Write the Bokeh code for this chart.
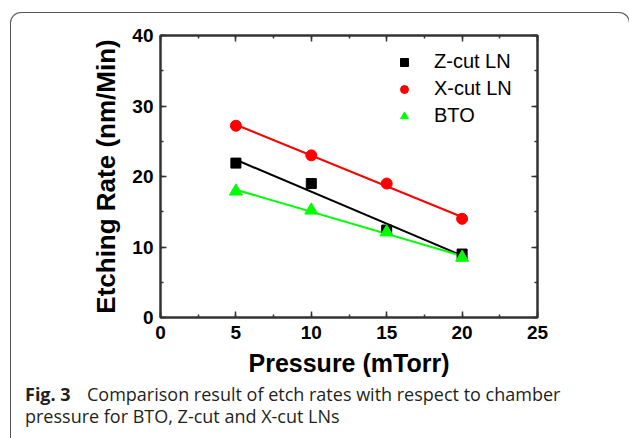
import numpy as np
from bokeh.plotting import figure
from bokeh.layouts import column
from bokeh.models import (Range1d, LinearAxis, SingleIntervalTicker, Legend,
                          LegendItem, CustomJSTickFormatter, InlineStyleSheet, Div)
from bokeh.embed import file_html
from bokeh.resources import INLINE

# ---- data ----
pressure = [5, 10, 15, 20]
zcut_ln = [21.9, 19.0, 12.4, 9.0]
xcut_ln = [27.2, 23.0, 19.0, 14.0]
bto = [17.9, 15.2, 12.1, 8.5]
series_names = ["Z-cut LN", "X-cut LN", "BTO"]
x_label = "Pressure (mTorr)"
y_label = "Etching Rate (nm/Min)"
caption_bold = "Fig. 3"
caption_line1 = "Comparison result of etch rates with respect to chamber"
caption_line2 = "pressure for BTO, Z-cut and X-cut LNs"

AX = "#333333"
TICK_FONT = "Liberation Sans"
W, H1, H2 = 629, 388, 50

p = figure(width=W, height=H1, x_range=Range1d(0, 25), y_range=Range1d(0, 40),
           output_backend="svg", toolbar_location=None,
           min_border_left=160, min_border_right=92,
           min_border_top=35, min_border_bottom=H1 - 317,
           background_fill_color="white", border_fill_color=None)
p.grid.visible = False
p.outline_line_color = AX
p.outline_line_width = 2


def style_axis(ax, show_labels=True):
    ax.axis_line_color = AX
    ax.axis_line_width = 2
    ax.major_tick_line_color = AX
    ax.minor_tick_line_color = AX
    ax.major_tick_line_width = 1.5
    ax.minor_tick_line_width = 1.5
    ax.major_tick_in = 6
    ax.major_tick_out = 0
    ax.minor_tick_in = 3
    ax.minor_tick_out = 0
    ax.major_label_text_font = TICK_FONT
    ax.major_label_text_font_style = "bold"
    ax.major_label_text_color = "black"
    ax.major_label_text_font_size = "19px"
    if not show_labels:
        ax.formatter = CustomJSTickFormatter(code="return ''")
        ax.major_label_standoff = 0


xb = p.xaxis[0]
yl = p.yaxis[0]
xb.ticker = SingleIntervalTicker(interval=5, num_minor_ticks=2)
yl.ticker = SingleIntervalTicker(interval=10, num_minor_ticks=2)
style_axis(xb)
style_axis(yl)
xb.major_label_standoff = 8
yl.major_label_standoff = 7

for ax in (xb, yl):
    ax.axis_label_text_font = TICK_FONT
    ax.axis_label_text_font_style = "bold"
    ax.axis_label_text_color = "black"
xb.axis_label_text_font_size = "25px"
yl.axis_label_text_font_size = "26px"
xb.axis_label = x_label
yl.axis_label = y_label
xb.axis_label_standoff = 7
yl.axis_label_standoff = 8

xt = LinearAxis(ticker=SingleIntervalTicker(interval=5, num_minor_ticks=2))
yr = LinearAxis(ticker=SingleIntervalTicker(interval=10, num_minor_ticks=2))
style_axis(xt, show_labels=False)
style_axis(yr, show_labels=False)
p.add_layout(xt, "above")
p.add_layout(yr, "right")

# ---- linear fits and points ----
xs = np.array(pressure, dtype=float)
specs = [
    (zcut_ln, "square", 10, "black"),
    (xcut_ln, "circle", 11, "#ff0000"),
    (bto, "triangle", 13, "#00ff00"),
]
renderers = []
for vals, marker, size, color in specs:
    k, b = np.polyfit(xs, np.array(vals, dtype=float), 1)
    fx = [xs.min(), xs.max()]
    p.line(fx, [k * v + b for v in fx], line_color=color, line_width=2)
for vals, marker, size, color in specs:
    r = p.scatter(pressure, vals, marker=marker, size=size,
                  fill_color=color, line_color=color)
    renderers.append(r)

legend = Legend(
    items=[LegendItem(label=n, renderers=[r]) for n, r in zip(series_names, renderers)],
    location=(234, 190), border_line_color=None, background_fill_alpha=0,
    padding=0, margin=0, spacing=4, label_height=20, glyph_height=20,
    glyph_width=20, label_standoff=20, label_text_font=TICK_FONT,
    label_text_font_size="20px", label_text_color="black")
p.add_layout(legend)

# ---- caption ----
cap_html = (
    '<div style="position:relative; top:-10px; left:20px; white-space:nowrap; '
    "font-family:'Open Sans'; font-size:18px; line-height:22px; color:#231f20;\">"
    '<span style="display:inline-block; width:62px; font-weight:bold;">'
    f'{caption_bold}</span>{caption_line1}<br>{caption_line2}</div>'
)
cap = Div(text=cap_html, width=W, height=H2)

box_css = InlineStyleSheet(css="""
:host { position: relative; overflow: hidden; background: white; }
:host::after {
  content: ""; position: absolute; left: 10px; top: 12px;
  width: 620px; height: 440px; box-sizing: border-box;
  border: 1.5px solid #555555; border-bottom: none;
  border-radius: 11px 11px 0 0; pointer-events: none;
}
""")

layout = column(p, cap, spacing=0, stylesheets=[box_css])

open("out.html", "w").write(file_html(layout, INLINE))
